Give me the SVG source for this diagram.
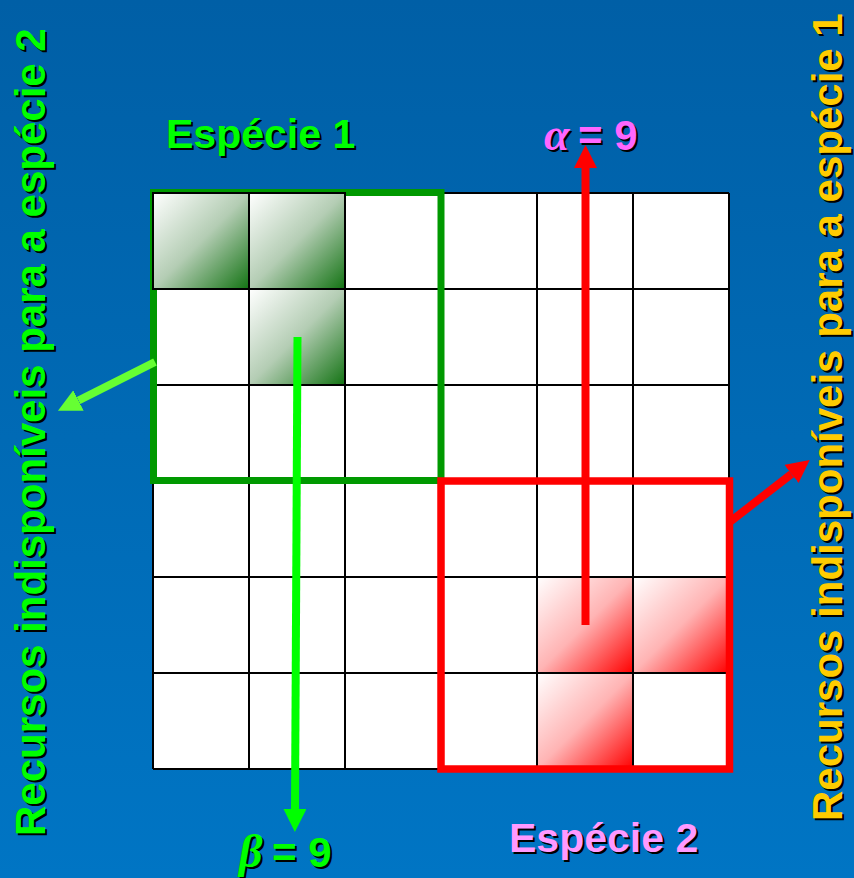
<svg xmlns="http://www.w3.org/2000/svg" width="854" height="878" viewBox="0 0 854 878">
  <defs>
    <linearGradient id="bg" x1="0" y1="0" x2="0" y2="1">
      <stop offset="0" stop-color="#005fa6"/>
      <stop offset="1" stop-color="#0075c4"/>
    </linearGradient>
    <linearGradient id="gg" x1="0" y1="0" x2="1" y2="1">
      <stop offset="0" stop-color="#ffffff"/>
      <stop offset="0.5" stop-color="#b4cdb4"/>
      <stop offset="1" stop-color="#137313"/>
    </linearGradient>
    <linearGradient id="rg" x1="0" y1="0" x2="1" y2="1">
      <stop offset="0" stop-color="#ffffff"/>
      <stop offset="0.5" stop-color="#ffb4b4"/>
      <stop offset="1" stop-color="#ff0000"/>
    </linearGradient>
    <marker id="hg" markerUnits="userSpaceOnUse" markerWidth="24" markerHeight="24" refX="0" refY="11.5" orient="auto">
      <path d="M0,0 L23,11.5 L0,23 z" fill="#00ff00"/>
    </marker>
    <marker id="hl" markerUnits="userSpaceOnUse" markerWidth="24" markerHeight="24" refX="0" refY="11.5" orient="auto">
      <path d="M0,0 L23,11.5 L0,23 z" fill="#66ff33"/>
    </marker>
    <marker id="hr" markerUnits="userSpaceOnUse" markerWidth="24" markerHeight="24" refX="0" refY="11.5" orient="auto">
      <path d="M0,0 L23,11.5 L0,23 z" fill="#ff0000"/>
    </marker>
  </defs>
  <style>
    .t { font-family: "Liberation Sans", Arial, sans-serif; font-weight: bold; }
    .g { font-family: "Liberation Serif", "DejaVu Serif", serif; font-style: italic; font-weight: bold; font-size: 46px; }
    .s { fill: #000000; }
    .arr { fill: none; stroke-width: 8; stroke-linecap: butt; }
    .sc { stroke: #000; stroke-width: 2; }
  </style>
  <rect x="0" y="0" width="854" height="878" fill="url(#bg)"/>

  <g id="grid">
    <rect x="153" y="193" width="576" height="576" fill="#ffffff"/>
    <g stroke="#000" stroke-width="2">
      <line x1="153" y1="193" x2="153" y2="769"/>
      <line x1="249" y1="193" x2="249" y2="769"/>
      <line x1="345" y1="193" x2="345" y2="769"/>
      <line x1="441" y1="193" x2="441" y2="769"/>
      <line x1="537" y1="193" x2="537" y2="769"/>
      <line x1="633" y1="193" x2="633" y2="769"/>
      <line x1="729" y1="193" x2="729" y2="769"/>
      <line x1="153" y1="193" x2="729" y2="193"/>
      <line x1="153" y1="289" x2="729" y2="289"/>
      <line x1="153" y1="385" x2="729" y2="385"/>
      <line x1="153" y1="481" x2="729" y2="481"/>
      <line x1="153" y1="577" x2="729" y2="577"/>
      <line x1="153" y1="673" x2="729" y2="673"/>
      <line x1="153" y1="769" x2="729" y2="769"/>
    </g>
  </g>

  <g id="especie1-area">
    <rect x="153.5" y="192.5" width="287.5" height="288" fill="none" stroke="#009900" stroke-width="7"/>
  </g>

  <g id="especie1-cells">
    <rect class="sc" x="153" y="193" width="96" height="96" fill="url(#gg)"/>
    <rect class="sc" x="249" y="193" width="96" height="96" fill="url(#gg)"/>
    <rect class="sc" x="249" y="289" width="96" height="96" fill="url(#gg)"/>
  </g>

  <g id="especie2-cells">
    <rect class="sc" x="537" y="577" width="96" height="96" fill="url(#rg)"/>
    <rect class="sc" x="633" y="577" width="96" height="96" fill="url(#rg)"/>
    <rect class="sc" x="537" y="673" width="96" height="96" fill="url(#rg)"/>
  </g>

  <g id="especie2-area">
    <rect x="441" y="481" width="288.5" height="288" fill="none" stroke="#ff0000" stroke-width="7.5"/>
  </g>

  <g id="connectors">
    <line class="arr" x1="297.5" y1="337" x2="295" y2="809" stroke="#00ff00" marker-end="url(#hg)"/>
    <line class="arr" x1="585.5" y1="625" x2="585.5" y2="168" stroke="#ff0000" marker-end="url(#hr)"/>
    <line class="arr" x1="155" y1="362" x2="78.5" y2="400.5" stroke="#66ff33" marker-end="url(#hl)"/>
    <line class="arr" x1="731" y1="521" x2="791.5" y2="474" stroke="#ff0000" marker-end="url(#hr)"/>
  </g>

  <g id="label-especie1" class="t" font-size="41">
    <text class="s" x="168" y="150">Espécie 1</text>
    <text x="166" y="148" fill="#00ff00">Espécie 1</text>
  </g>
  <g id="label-alpha" class="t" font-size="42">
    <text class="s" x="546" y="152"><tspan class="g">α</tspan><tspan x="580">= 9</tspan></text>
    <text x="544" y="150" fill="#ff66ff"><tspan class="g">α</tspan><tspan x="578">= 9</tspan></text>
  </g>
  <g id="label-beta" class="t" font-size="42">
    <text class="s" x="241" y="869"><tspan class="g">β</tspan><tspan x="274">= 9</tspan></text>
    <text x="239" y="867" fill="#00ff00"><tspan class="g">β</tspan><tspan x="272">= 9</tspan></text>
  </g>
  <g id="label-especie2" class="t" font-size="41">
    <text class="s" x="511" y="854">Espécie 2</text>
    <text x="509" y="852" fill="#ff99ff">Espécie 2</text>
  </g>
  <g id="label-left" class="t" font-size="42">
    <text class="s" transform="translate(47,838) rotate(-90)">Recursos indisponíveis para a espécie 2</text>
    <text transform="translate(45,836) rotate(-90)" fill="#00ff00">Recursos indisponíveis para a espécie 2</text>
  </g>
  <g id="label-right" class="t" font-size="42">
    <text class="s" transform="translate(844,823) rotate(-90)">Recursos indisponíveis para a espécie 1</text>
    <text transform="translate(842,821) rotate(-90)" fill="#ffcc00">Recursos indisponíveis para a espécie 1</text>
  </g>
</svg>
